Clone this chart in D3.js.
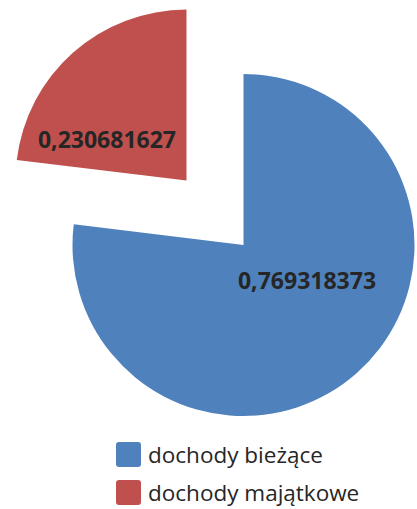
<!DOCTYPE html>
<html>
<head>
<meta charset="utf-8">
<script src="https://cdn.jsdelivr.net/npm/d3@7"></script>
<style>
  body { margin: 0; background: #fff; }
  text { font-family: "Open Sans", "Noto Sans", sans-serif; }
</style>
</head>
<body>
<div id="chart"></div>
<script>
// Chart data
var categories = ["dochody bieżące", "dochody majątkowe"];
var values = [0.769318373, 0.230681627];
var labels = ["0,769318373", "0,230681627"];
var colors = ["#4F81BD", "#C0504D"];

var svgWidth = 417;
var svgHeight = 509;

var cx = 243.5, cy = 245, radius = 171;
var explode = 86;

var svg = d3.select("#chart")
    .append("svg")
    .attr("width", svgWidth)
    .attr("height", svgHeight);

var pie = d3.pie().sort(null).value(d => d);
var arcs = pie(values);

var arc = d3.arc().innerRadius(0).outerRadius(radius);

var pieGroup = svg.append("g")
    .attr("transform", `translate(${cx}, ${cy})`);

// offset for exploded slice (only the second one)
function sliceOffset(d, i) {
    if (i === 0) return [0, 0];
    var mid = (d.startAngle + d.endAngle) / 2;
    return [Math.sin(mid) * explode, -Math.cos(mid) * explode];
}

var slices = pieGroup.selectAll("g.slice")
    .data(arcs)
    .enter()
    .append("g")
    .attr("class", "slice")
    .attr("transform", (d, i) => {
        var o = sliceOffset(d, i);
        return `translate(${o[0]}, ${o[1]})`;
    });

slices.append("path")
    .attr("d", arc)
    .attr("fill", (d, i) => colors[i]);

// data labels (offset from slice apex)
var labelOffsets = [[63.5, 44], [-79.5, -33]];
slices.append("text")
    .attr("x", (d, i) => labelOffsets[i][0])
    .attr("y", (d, i) => labelOffsets[i][1])
    .attr("text-anchor", "middle")
    .attr("fill", "#262626")
    .style("font-size", "23px")
    .style("font-weight", "bold")
    .text((d, i) => labels[i]);

// Legend
var legend = svg.append("g")
    .attr("transform", "translate(116, 442)");

var items = legend.selectAll("g")
    .data(categories)
    .enter()
    .append("g")
    .attr("transform", (d, i) => `translate(0, ${i * 38})`);

items.append("rect")
    .attr("width", 25)
    .attr("height", 25)
    .attr("rx", 3)
    .attr("fill", (d, i) => colors[i]);

items.append("text")
    .attr("x", 32)
    .attr("y", 21)
    .attr("fill", "#262626")
    .style("font-size", "22.5px")
    .text(d => d);
</script>
</body>
</html>
